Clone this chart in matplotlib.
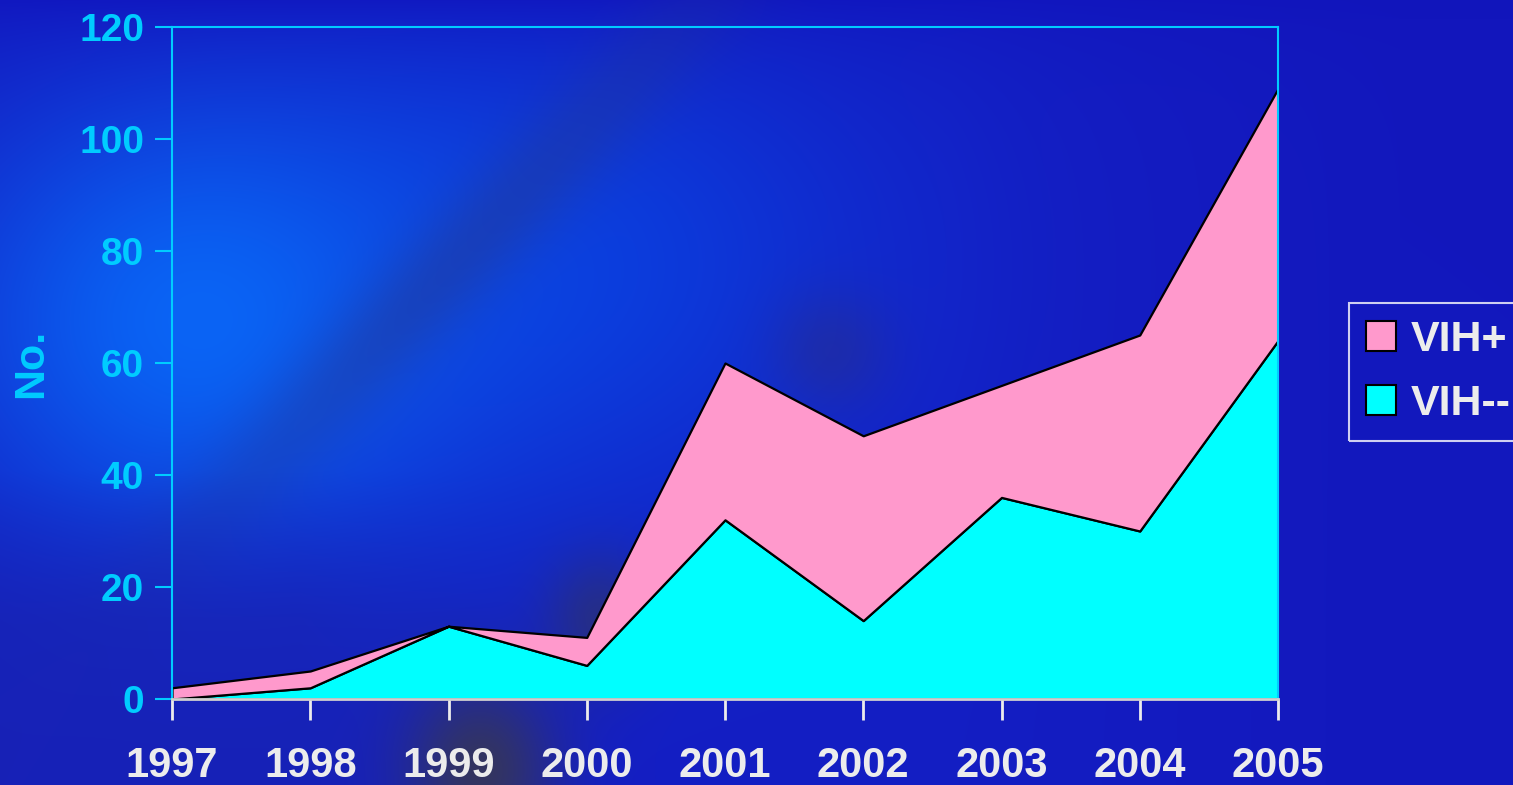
import numpy as np
import matplotlib
matplotlib.use("Agg")
import matplotlib.pyplot as plt
from matplotlib.patches import Patch

years = [1997, 1998, 1999, 2000, 2001, 2002, 2003, 2004, 2005]
vih_neg = [0, 2, 13, 6, 32, 14, 36, 30, 64]
vih_pos = [2, 3, 0, 5, 28, 33, 20, 35, 45]
labels = ["VIH+", "VIH--"]

PINK = "#ff99cc"
CYAN = "#00ffff"
AXIS_CYAN = "#00ccff"
LIGHT = "#ececec"

plt.rcParams["font.family"] = ["Liberation Sans", "DejaVu Sans"]
plt.rcParams["font.weight"] = "bold"

W, H = 1513, 785


def make_background():
    yy, xx = np.mgrid[0:H, 0:W].astype(float)
    img = np.zeros((H, W, 3))
    img[:] = np.array([20, 30, 195]) / 255.0

    def blend(img, weight, color):
        c = np.array(color) / 255.0
        w = np.clip(weight, 0, 1)[..., None]
        return img * (1 - w) + c * w

    # broad mid blue over the upper-middle
    g = np.exp(-(((xx - 550) / 330) ** 2 + ((yy - 260) / 260) ** 2))
    img = blend(img, g * 0.85, (10, 65, 225))
    # bright glow on the left
    g = np.exp(-(((xx - 200) / 260) ** 2 + ((yy - 320) / 230) ** 2))
    img = blend(img, g * 1.0, (10, 100, 245))
    # darker top strip
    img = blend(img, np.exp(-yy / 45) * 0.75, (16, 20, 190))
    # diagonal greyish band
    x1, y1, x2, y2 = 250, 480, 680, 20
    d = np.abs((y2 - y1) * xx - (x2 - x1) * yy + x2 * y1 - y2 * x1) / np.hypot(y2 - y1, x2 - x1)
    along = np.exp(-(((yy - 260) / 280) ** 2))
    img = blend(img, np.exp(-(d / 50) ** 2) * 0.5 * along, (35, 55, 150))
    # lower-left navy
    img = blend(img, np.clip((yy - 470) / 150, 0, 1) * np.clip((600 - xx) / 300, 0, 1) * 0.6,
                (25, 35, 175))
    # dark blobs
    img = blend(img, np.exp(-(((xx - 480) / 75) ** 2 + ((yy - 770) / 90) ** 2)) * 0.9, (55, 55, 85))
    img = blend(img, np.exp(-(((xx - 600) / 55) ** 2 + ((yy - 620) / 65) ** 2)) * 0.7, (45, 50, 110))
    img = blend(img, np.exp(-(((xx - 830) / 60) ** 2 + ((yy - 350) / 60) ** 2)) * 0.5, (40, 45, 140))
    # right side darker
    img = blend(img, np.clip((xx - 950) / 450, 0, 1) * 0.6, (18, 20, 185))
    return img


fig = plt.figure(figsize=(W / 100, H / 100), dpi=100)
bg = fig.add_axes([0, 0, 1, 1], zorder=-1)
bg.imshow(make_background(), aspect="auto", extent=[0, 1, 0, 1])
bg.axis("off")

ax = fig.add_axes([172 / W, 1 - 699 / H, (1278 - 172) / W, (699 - 27) / H])
ax.set_facecolor("none")

ax.stackplot(years, vih_neg, vih_pos, colors=[CYAN, PINK],
             edgecolor="black", linewidth=1.6, zorder=2)

ax.set_xlim(1997, 2005)
ax.set_ylim(0, 120)
ax.set_yticks(range(0, 121, 20))
ax.set_xticks(years)

for side in ["left", "top", "right"]:
    ax.spines[side].set_color(AXIS_CYAN)
    ax.spines[side].set_linewidth(1.5)
ax.spines["bottom"].set_color("#d0d0d0")
ax.spines["bottom"].set_linewidth(2)
ax.spines["bottom"].set_zorder(3)

ax.tick_params(axis="y", colors=AXIS_CYAN, labelsize=28, length=12, width=1.5, pad=8)
ax.tick_params(axis="x", colors=LIGHT, labelsize=30, length=15, width=2, pad=19)
for t in ax.get_yticklabels() + ax.get_xticklabels():
    t.set_fontweight("bold")

ax.set_ylabel("No.", color=AXIS_CYAN, fontsize=31, fontweight="bold", labelpad=20)

handles = [Patch(facecolor=PINK, edgecolor="black", linewidth=1.5),
           Patch(facecolor=CYAN, edgecolor="black", linewidth=1.5)]
leg = fig.legend(handles, labels, loc="upper left", bbox_to_anchor=(1349 / W, 1 - 303 / H),
                 frameon=True, fancybox=False, fontsize=31, handlelength=0.68, handleheight=0.68,
                 handletextpad=0.35, borderpad=0.4, labelspacing=0.55, borderaxespad=0)
leg.get_frame().set_facecolor("none")
leg.get_frame().set_edgecolor("white")
leg.get_frame().set_linewidth(1.5)
for t in leg.get_texts():
    t.set_color(LIGHT)
    t.set_fontweight("bold")

fig.savefig("out.png", dpi=100)
